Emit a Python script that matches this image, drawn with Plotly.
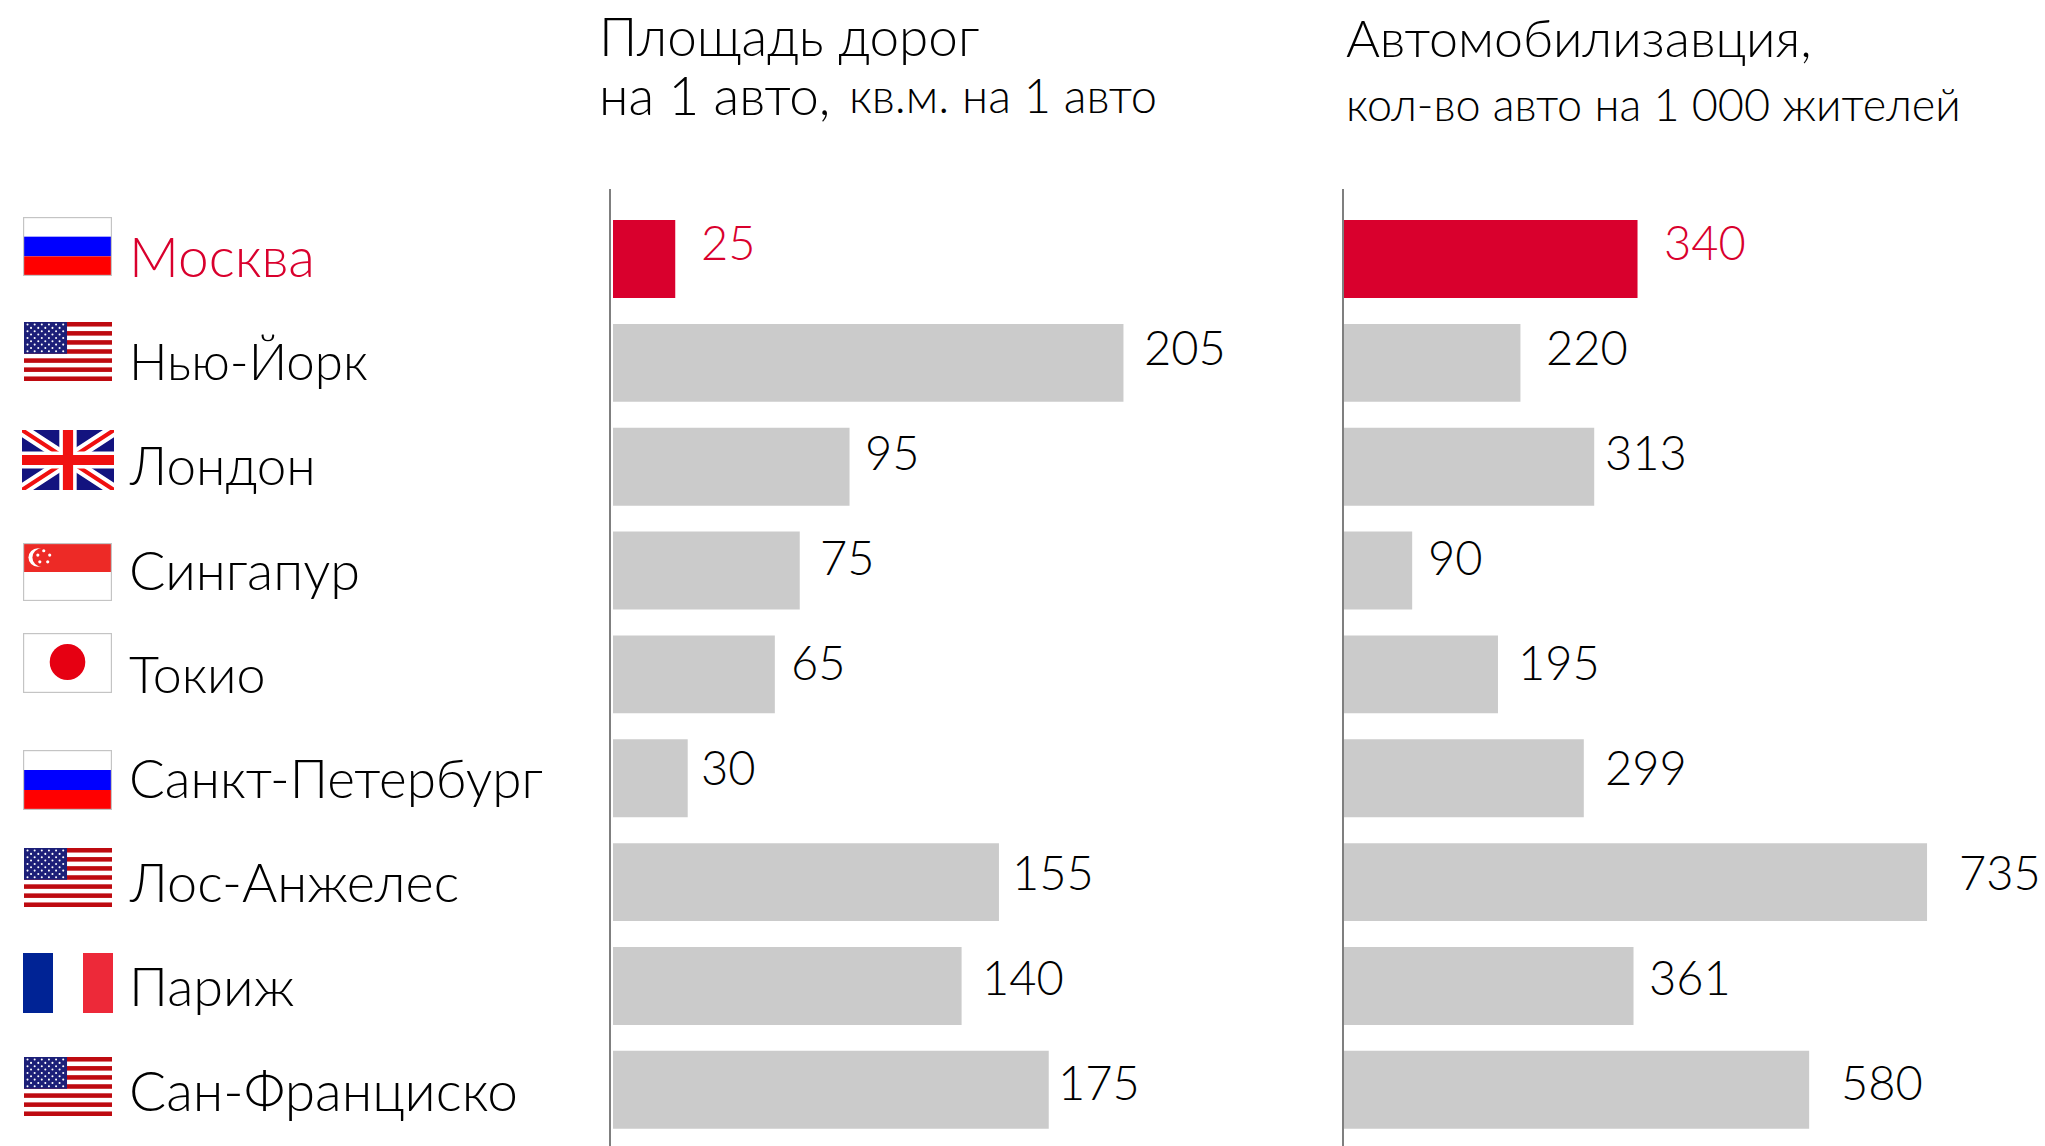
import base64
import plotly.graph_objects as go

W, H = 2045, 1146

cities = ["Москва", "Нью-Йорк", "Лондон", "Сингапур", "Токио",
          "Санкт-Петербург", "Лос-Анжелес", "Париж", "Сан-Франциско"]
city_size = [55, 51, 53, 54, 52, 53, 54, 54, 55]
city_rise = [3, 2, 2, 1.5, 1.5, 1, 1, 0.5, 0]
road_area = [25, 205, 95, 75, 65, 30, 155, 140, 175]
road_label_gap = [25, 20, 14, 19, 15, 12, 12, 19, 8]
cars_labels = [340, 220, 313, 90, 195, 299, 735, 361, 580]
# bar lengths as drawn in the picture (some differ slightly from their printed figures)
cars_drawn = [366, 220, 312, 85, 192, 299, 727, 361, 580]
cars_label_gap = [25, 25, 10, 15, 19, 20, 31, 14, 31]
label_rise = [17, 16, 15, 14, 12, 11, 10, 9, 8]
flags = ["ru", "us", "uk", "sg", "jp", "ru", "us", "fr", "us"]
flag_boxes = [(23, 217, 112, 276), (24, 322, 112, 381), (22, 430, 114, 490),
              (23, 543, 112, 601), (23, 633, 112, 693), (23, 750, 112, 810),
              (24, 848, 112, 907), (23, 953, 113, 1013), (24, 1057, 112, 1116)]

RED = "#D9002D"
GREY = "#CBCBCB"
FONT = "Lato"
WEIGHT = 300


def svg_uri(body, w=90, h=60):
    s = (f'<svg xmlns="http://www.w3.org/2000/svg" width="{w*4}" height="{h*4}" '
         f'viewBox="0 0 {w} {h}" preserveAspectRatio="none">{body}</svg>')
    return "data:image/svg+xml;base64," + base64.b64encode(s.encode()).decode()


def flag_svg(kind):
    border = '<rect x="0.6" y="0.6" width="88.8" height="58.8" fill="none" stroke="#C4C4C4" stroke-width="1.2"/>'
    if kind == "ru":
        return svg_uri('<rect width="90" height="60" fill="#fff"/>'
                       '<rect y="20" width="90" height="20" fill="#0000FF"/>'
                       '<rect y="40" width="90" height="20" fill="#FF0000"/>' + border)
    if kind == "us":
        b = '<rect width="90" height="60" fill="#fff"/>'
        for i in range(0, 13, 2):
            b += f'<rect y="{i*60/13:.2f}" width="90" height="{60/13:.2f}" fill="#BE0A10"/>'
        b += '<rect width="44" height="32.3" fill="#1C1F78"/>'
        for r in range(9):
            cols = 6 if r % 2 == 0 else 5
            for c in range(cols):
                x = 3.6 + c * 7.3 + (0 if r % 2 == 0 else 3.65)
                y = 2.6 + r * 3.4
                b += f'<circle cx="{x:.1f}" cy="{y:.1f}" r="1.05" fill="#fff"/>'
        return svg_uri(b)
    if kind == "uk":
        return svg_uri('<rect width="90" height="60" fill="#13137F"/>'
                       '<path d="M0 0L90 60M90 0L0 60" stroke="#fff" stroke-width="12"/>'
                       '<path d="M0 0L90 60M90 0L0 60" stroke="#F01010" stroke-width="4"/>'
                       '<path d="M45 0V60M0 30H90" stroke="#fff" stroke-width="17"/>'
                       '<path d="M45 0V60M0 30H90" stroke="#F01010" stroke-width="10"/>')
    if kind == "sg":
        b = ('<rect width="90" height="60" fill="#fff"/>'
             '<rect width="90" height="30" fill="#ED2A26"/>'
             '<circle cx="15" cy="15" r="9.5" fill="#fff"/>'
             '<circle cx="19" cy="15" r="9.5" fill="#ED2A26"/>')
        for x, y in [(21, 8), (27, 12.5), (25, 19.5), (17, 19.5), (15, 12.5)]:
            b += f'<circle cx="{x}" cy="{y}" r="1.6" fill="#fff"/>'
        return svg_uri(b + border)
    if kind == "jp":
        return svg_uri('<rect width="90" height="60" fill="#fff"/>'
                       '<ellipse cx="45" cy="29" rx="18" ry="18" fill="#E60012"/>' + border)
    return svg_uri('<rect width="90" height="60" fill="#fff"/>'
                   '<rect width="30" height="60" fill="#002395"/>'
                   '<rect x="60" width="30" height="60" fill="#ED2939"/>')


def px(x):
    return x / W


def py(y):
    return 1 - y / H


PITCH = 103.85
FIRST = 259.0
TOP = 189.0
y_range = [(H - FIRST) / PITCH, (TOP - FIRST) / PITCH]

colors = [RED] + [GREY] * 8

fig = go.Figure()
fig.add_bar(x=road_area, y=cities, orientation="h", marker=dict(color=colors, line_width=0),
            xaxis="x", yaxis="y", hoverinfo="x+y")
fig.add_bar(x=cars_drawn, y=cities, orientation="h", marker=dict(color=colors, line_width=0),
            xaxis="x2", yaxis="y2", hoverinfo="x+y")

annotations = []


def text(x, y, s, size, color="#000", xref="paper", yref="paper", xshift=0, yshift=0):
    annotations.append(dict(x=x, y=y, text=s, xref=xref, yref=yref, showarrow=False,
                            xanchor="left", yanchor="middle", xshift=xshift, yshift=yshift,
                            align="left", borderpad=0,
                            font=dict(family=FONT, size=size, color=color, weight=WEIGHT)))


for i, c in enumerate(cities):
    col = RED if i == 0 else "#000"
    text(px(128), c, c, city_size[i], col, yref="y", yshift=city_rise[i])
    text(road_area[i], c, str(road_area[i]), 47, col, xref="x", yref="y",
         xshift=road_label_gap[i], yshift=label_rise[i])
    text(cars_drawn[i], c, str(cars_labels[i]), 47, col, xref="x2", yref="y2",
         xshift=cars_label_gap[i], yshift=label_rise[i])

text(px(598), py(35), "Площадь дорог", 53)
text(px(598), py(94), "на 1 авто,", 53)
text(px(848), py(95), "кв.м. на 1 авто", 47)
text(px(1345), py(37), "Автомобилизавция,", 52)
text(px(1345), py(104), "кол-во авто на 1 000 жителей", 45)

images = [dict(source=flag_svg(k), xref="paper", yref="paper", x=px(b[0]), y=py(b[1]),
               sizex=(b[2] - b[0]) / W, sizey=(b[3] - b[1]) / H, xanchor="left", yanchor="top",
               sizing="stretch", layer="above")
          for k, b in zip(flags, flag_boxes)]

PX_L = 2.49   # pixels per unit, left panel
PX_R = 0.802  # pixels per unit, right panel
left_start, left_end = 611, 1300
right_start, right_end = 1344, 2045
axis_common = dict(showgrid=False, zeroline=False, showticklabels=False, ticks="", showline=False)
y_common = dict(showgrid=False, zeroline=False, showticklabels=False, ticks="", showline=True,
                linecolor="#7F7F7F", linewidth=1.5, type="category", range=y_range,
                domain=[0, py(TOP)], categoryorder="array", categoryarray=cities)

fig.update_layout(
    width=W, height=H, autosize=False,
    margin=dict(l=0, r=0, t=0, b=0, pad=0),
    paper_bgcolor="#fff", plot_bgcolor="#fff",
    showlegend=False, bargap=0.25, barmode="overlay",
    xaxis=dict(domain=[px(left_start), px(left_end)],
               range=[-2 / PX_L, (left_end - left_start - 2) / PX_L], **axis_common),
    xaxis2=dict(domain=[px(right_start), 1],
                range=[0, (right_end - right_start) / PX_R], **axis_common),
    yaxis=dict(anchor="x", **y_common),
    yaxis2=dict(anchor="x2", **y_common),
    annotations=annotations,
    images=images,
)

fig.write_html("out.html", config=dict(displayModeBar=False),
               post_script="document.body.style.margin='0';document.body.style.overflow='hidden';")
